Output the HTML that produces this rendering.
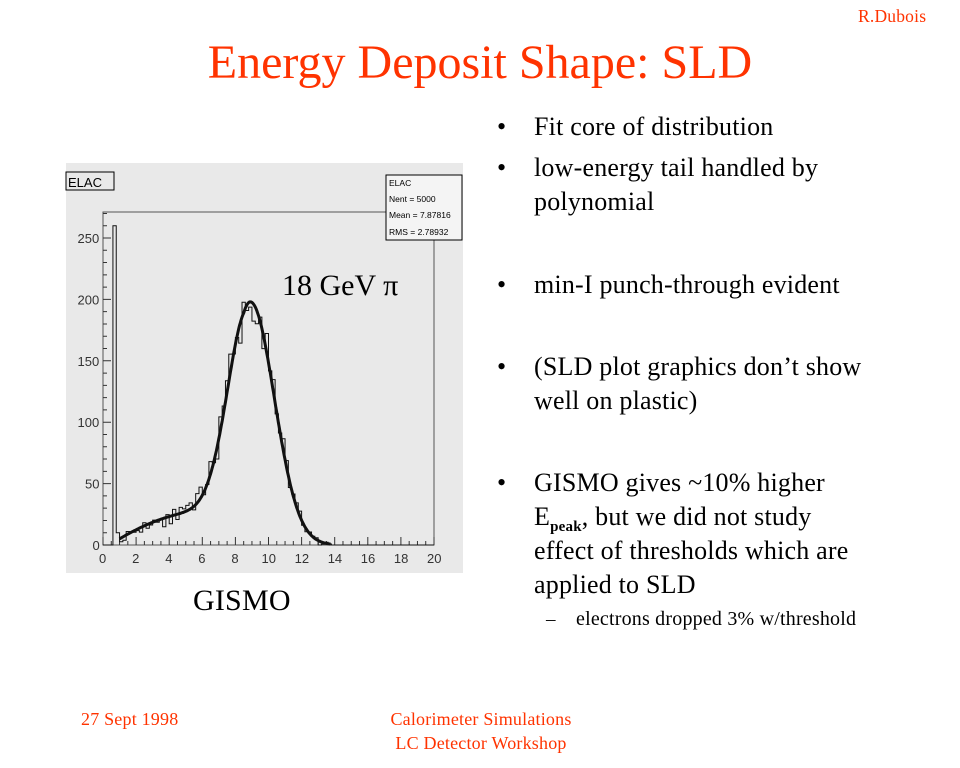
<!DOCTYPE html>
<html><head><meta charset="utf-8">
<style>
body{margin:0;width:960px;height:768px;background:#fff;position:relative;overflow:hidden;font-family:"Liberation Serif",serif}
.t{position:absolute;white-space:nowrap;color:#000;font-size:26px;line-height:1;letter-spacing:0.2px}
.r{color:#ff3300}
</style></head><body>
<div class="t r" style="left:858px;top:8px;font-size:17.5px">R.Dubois</div>
<div class="t r" style="left:0;width:960px;text-align:center;top:39px;font-size:48px;letter-spacing:0">Energy Deposit Shape: SLD</div>

<div class="t" style="left:497px;top:114px">•</div><div class="t" style="left:534px;top:114px">Fit core of distribution</div>
<div class="t" style="left:497px;top:155px">•</div><div class="t" style="left:534px;top:155px">low-energy tail handled by</div>
<div class="t" style="left:534px;top:189px">polynomial</div>
<div class="t" style="left:497px;top:272px">•</div><div class="t" style="left:534px;top:272px">min-I punch-through evident</div>
<div class="t" style="left:497px;top:354px">•</div><div class="t" style="left:534px;top:354px">(SLD plot graphics don’t show</div>
<div class="t" style="left:534px;top:388px">well on plastic)</div>
<div class="t" style="left:497px;top:470px">•</div><div class="t" style="left:534px;top:470px">GISMO gives ~10% higher</div>
<div class="t" style="left:534px;top:504px">E<sub style="font-size:15px;font-weight:bold">peak</sub>, but we did not study</div>
<div class="t" style="left:534px;top:538px">effect of thresholds which are</div>
<div class="t" style="left:534px;top:572px">applied to SLD</div>
<div class="t" style="left:546px;top:610px;font-size:19px">–</div><div class="t" style="left:576px;top:609px;font-size:20px">electrons dropped 3% w/threshold</div>

<div class="t r" style="left:81px;top:710px;font-size:18px">27 Sept 1998</div>
<div class="t r" style="left:0;width:962px;text-align:center;top:710px;font-size:18px">Calorimeter Simulations</div>
<div class="t r" style="left:0;width:962px;text-align:center;top:734px;font-size:18px">LC Detector Workshop</div>
<div class="t" style="left:193px;top:586px;font-size:30px">GISMO</div>

<svg id="s" width="960" height="768" style="position:absolute;left:0;top:0" xmlns="http://www.w3.org/2000/svg">
<rect x="66" y="163" width="397" height="410" fill="#e9e9e9"/>
<rect x="103" y="212" width="331" height="333" fill="#e9e9e9" stroke="#555" stroke-width="1"/>
<rect x="66" y="172" width="48" height="18" fill="#e9e9e9" stroke="#000" stroke-width="1"/>
<text x="68" y="187" font-family="Liberation Sans,sans-serif" font-size="13">ELAC</text>
<rect x="386" y="175" width="76" height="65" fill="#f4f4f4" stroke="#000"/>
<g font-family="Liberation Sans,sans-serif" font-size="8.5">
<text x="389" y="186">ELAC</text><text x="389" y="202">Nent = 5000</text>
<text x="389" y="218">Mean = 7.87816</text><text x="389" y="235">RMS  = 2.78932</text></g>
<text x="282" y="295" font-family="Liberation Serif,serif" font-size="30">18 GeV π</text>
<g id="ax" font-family="Liberation Sans,sans-serif" font-size="13" fill="#333"></g>
<path id="h" fill="none" stroke="#111" stroke-width="1"/>
<path id="f" fill="none" stroke="#111" stroke-width="3"/>
</svg>
<script>
var X=function(v){return 103+v*16.55},Y=function(v){return 545-v*1.228};
var ax=document.getElementById('ax'),s='';
for(var i=0;i<=20;i+=2){s+='<text x="'+(X(i)-(i>=10?7:4))+'" y="563">'+i+'</text>';}
for(var j=0;j<=250;j+=50){s+='<text x="'+(100-(j+'').length*7.5)+'" y="'+(Y(j)+5)+'">'+j+'</text>';}
var tk='';
for(var i=0;i<=40;i++){var x=X(i*0.5),L=i%4==0?8:4;tk+='M'+x+' 545V'+(545-L);}
for(var j=0;j<=270;j+=10){var y=Y(j),L=j%50==0?8:4;tk+='M103 '+y+'H'+(103+L);}
s+='<path d="'+tk+'" stroke="#333" fill="none"/>';
ax.innerHTML=s;
function fit(x){var sg=x<8.9?1.3:1.45;var g=198*Math.exp(-Math.pow(x-8.9,2)/(2*sg*sg));var u=x-1;var p=(5+8*u-0.6*u*u)*Math.max(0,1-Math.pow(u/7.5,4));return g+Math.max(0,p);}
var seed=11;function rnd(){seed=(seed*16807)%2147483647;return seed/2147483647-0.5;}
var d='M'+X(0)+' '+Y(0);
for(var i=0;i<100;i++){var x=i*0.2+0.1,v;
 if(i==3)v=260;else if(i<3)v=0;else if(i==4)v=10;else{v=fit(x);if(v>1)v+=rnd()*2.4*Math.sqrt(v)+rnd()*5;if(x>13.8)v=0;v=Math.max(0,v);}
 d+='V'+Y(v)+'H'+X(i*0.2+0.2);}
document.getElementById('h').setAttribute('d',d);
var f='';for(var x=1;x<=13.8;x+=0.05){f+=(f?'L':'M')+X(x).toFixed(1)+' '+Y(fit(x)).toFixed(1);}
document.getElementById('f').setAttribute('d',f);
</script>
</body></html>
